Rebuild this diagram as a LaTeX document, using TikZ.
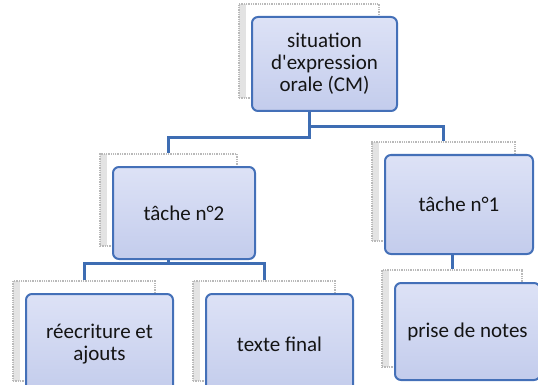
\documentclass[tikz,border=0pt]{standalone}
\usepackage{fontspec}
\setmainfont{Carlito}[Ligatures=TeXOff]
\definecolor{bord}{HTML}{4470B8}
\definecolor{conncol}{HTML}{3E6DB3}
\definecolor{filltop}{HTML}{DDE2F6}
\definecolor{fillbot}{HTML}{C3CCEC}
\definecolor{txt}{HTML}{141414}
\tikzset{
  frontbox/.style={draw=bord, line width=2pt, rounded corners=6pt,
    top color=filltop, bottom color=fillbot, align=center, text=txt,
    font=\fontsize{21}{22}\selectfont, inner sep=0pt},
  backbox/.style={draw=gray!55, densely dotted, line width=1.3pt, fill=white,
    path picture={\fill[gray!22] (path picture bounding box.north west) rectangle ([xshift=7pt]path picture bounding box.south west);}},
  conn/.style={draw=conncol, line width=3pt}
}
\begin{document}
\begin{tikzpicture}[x=1pt,y=-1pt]
\useasboundingbox (0,0) rectangle (538,385);
% back boxes
\node[backbox, minimum width=140pt, minimum height=94pt] (rootb) at (309,51) {};
\node[backbox, minimum width=137pt, minimum height=92pt] (t2b) at (168.5,200) {};
\node[backbox, minimum width=143pt, minimum height=99pt] (t1b) at (443.5,191.5) {};
\node[backbox, minimum width=142pt, minimum height=100pt] (reecb) at (84,331) {};
\node[backbox, minimum width=142pt, minimum height=100pt] (texteb) at (264,331) {};
\node[backbox, minimum width=140pt, minimum height=97pt] (priseb) at (452,318.5) {};
% junctions
\coordinate (jr) at (309,127);
\coordinate (jl) at (309,138);
\coordinate (j2) at (168.5,263);
% front boxes
\node[frontbox, minimum width=145pt, minimum height=94pt] (root) at (324.5,64) {situation\\d'expression\\orale (CM)};
\node[frontbox, minimum width=142pt, minimum height=92pt] (t2) at (184,213) {tâche n°2};
\node[frontbox, minimum width=148pt, minimum height=99pt] (t1) at (459,204.5) {tâche n°1};
\node[frontbox, minimum width=147pt, minimum height=100pt] (reec) at (99.5,344) {réecriture et\\ajouts};
\node[frontbox, minimum width=147pt, minimum height=100pt] (texte) at (279.5,344) {texte final};
\node[frontbox, minimum width=145pt, minimum height=97pt] (prise) at (467.5,331.5) {prise de notes};
% connectors
\draw[conn] (root.south -| rootb.north) -- (jr) -| (t1b.north);
\draw[conn] (jr) -- (jl) -| (t2b.north);
\draw[conn] (t2.south -| t2b.north) -- (j2);
\draw[conn] (reecb.north) |- (j2) -| (texteb.north);
\draw[conn] (t1.south -| priseb.north) -- (priseb.north);
\end{tikzpicture}
\end{document}
